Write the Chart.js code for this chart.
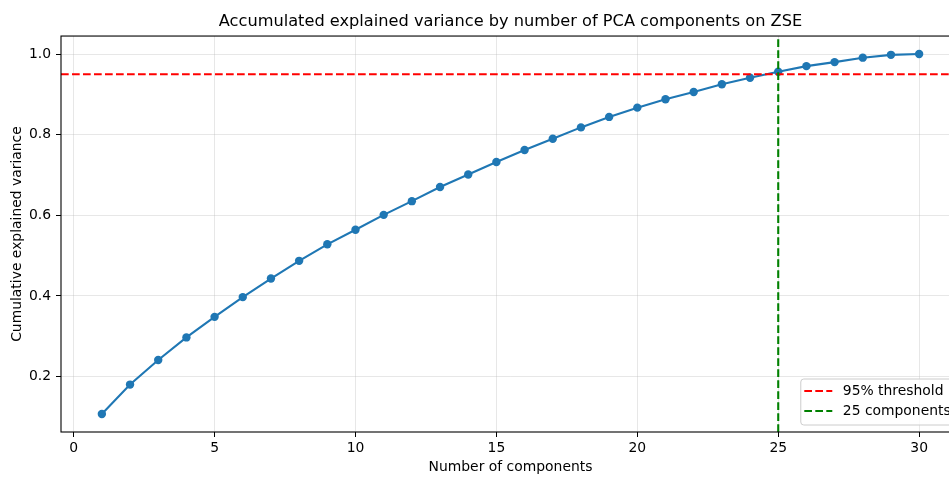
<!DOCTYPE html>
<html><head><meta charset="utf-8">
<script src="https://cdn.jsdelivr.net/npm/chart.js@4"></script>
<style>html,body{margin:0;padding:0;overflow:hidden;background:#fff}</style>
</head>
<body>
<canvas id="c" width="970" height="477"></canvas>
<script>
// ---- data ----
const components = [1,2,3,4,5,6,7,8,9,10,11,12,13,14,15,16,17,18,19,20,21,22,23,24,25,26,27,28,29,30];
const cumVariance = [0.107,0.180,0.241,0.297,0.348,0.397,0.443,0.487,0.528,0.564,0.601,0.635,0.670,0.701,0.732,0.762,0.790,0.818,0.844,0.867,0.888,0.906,0.925,0.941,0.956,0.970,0.980,0.991,0.998,1.000];
const threshold = 0.95;
const nComponents = 25;
const xTicks = [0,5,10,15,20,25,30];
const yTicks = [0.2,0.4,0.6,0.8,1.0];
const titleText = 'Accumulated explained variance by number of PCA components on ZSE';
const xLabel = 'Number of components';
const yLabel = 'Cumulative explained variance';
const legendLabels = ['95% threshold', '25 components'];

// ---- axis limits (matplotlib-style 5% margins) ----
const xDataMin = Math.min(...components), xDataMax = Math.max(...components);
const xPad = (xDataMax - xDataMin) * 0.05;
const xMin = xDataMin - xPad, xMax = xDataMax + xPad;
const yDataMin = Math.min(...cumVariance), yDataMax = Math.max(...cumVariance);
const yPad = (yDataMax - yDataMin) * 0.05;
const yMin = yDataMin - yPad, yMax = yDataMax + yPad;

const FONT = "'DejaVu Sans', sans-serif";
const dashPattern = [7.7, 3.3];

const framePlugin = {
  id: 'frame',
  afterDraw(chart) {
    const {ctx, chartArea: a} = chart;
    ctx.save();
    ctx.strokeStyle = '#000';
    ctx.lineWidth = 1.1;
    ctx.strokeRect(a.left, a.top, a.right - a.left, a.bottom - a.top);
    ctx.restore();
  }
};

const legendPlugin = {
  id: 'mplLegend',
  afterDraw(chart) {
    const {ctx, chartArea: a} = chart;
    const items = chart.data.datasets.filter(d => d.inLegend);
    ctx.save();
    ctx.font = '13.9px ' + FONT;
    const textW = Math.max(...items.map(d => ctx.measureText(d.label).width));
    const w = 42 + textW + 2.3;
    const h = 46;
    const right = a.right - 7, bottom = a.bottom - 7;
    const left = right - w, top = bottom - h;
    ctx.beginPath();
    if (ctx.roundRect) ctx.roundRect(left, top, w, h, 3); else ctx.rect(left, top, w, h);
    ctx.fillStyle = 'rgba(255,255,255,0.8)';
    ctx.fill();
    ctx.strokeStyle = '#cccccc';
    ctx.lineWidth = 1;
    ctx.stroke();
    items.forEach((d, i) => {
      const cy = top + 12 + i * 20;
      ctx.beginPath();
      ctx.setLineDash(dashPattern);
      ctx.strokeStyle = d.borderColor;
      ctx.lineWidth = 2.08;
      ctx.moveTo(left + 3.5, cy);
      ctx.lineTo(left + 31.5, cy);
      ctx.stroke();
      ctx.setLineDash([]);
      ctx.fillStyle = '#000';
      ctx.textBaseline = 'middle';
      ctx.textAlign = 'left';
      ctx.fillText(d.label, left + 42, cy + 0.5);
    });
    ctx.restore();
  }
};

const gridCommon = {
  color: 'rgba(176,176,176,0.3)',
  lineWidth: 1,
  tickColor: '#000',
  tickLength: 5,
  tickWidth: 1,
  drawTicks: true
};

new Chart(document.getElementById('c'), {
  type: 'line',
  data: {
    datasets: [
      {
        label: 'Cumulative explained variance',
        data: components.map((c, i) => ({x: c, y: cumVariance[i]})),
        borderColor: '#1f77b4',
        backgroundColor: '#1f77b4',
        borderWidth: 2.08,
        pointRadius: 4.2,
        pointHoverRadius: 4.2,
        pointBorderWidth: 0,
        tension: 0,
        order: 3
      },
      {
        label: legendLabels[0],
        inLegend: true,
        data: [{x: xMin, y: threshold}, {x: xMax, y: threshold}],
        borderColor: '#ff0000',
        borderWidth: 2.08,
        borderDash: dashPattern,
        pointRadius: 0,
        order: 2
      },
      {
        label: legendLabels[1],
        inLegend: true,
        data: [{x: nComponents, y: yMin}, {x: nComponents, y: yMax}],
        borderColor: '#008000',
        borderWidth: 2.08,
        borderDash: dashPattern,
        pointRadius: 0,
        order: 1
      }
    ]
  },
  options: {
    responsive: false,
    animation: false,
    devicePixelRatio: 1,
    layout: {padding: {left: 0, right: 10, top: 0, bottom: 0}},
    plugins: {
      legend: {display: false},
      tooltip: {enabled: false},
      title: {
        display: true,
        fullSize: false,
        text: titleText,
        color: '#000',
        font: {family: FONT, size: 16.2, weight: 'normal', lineHeight: 1.2},
        padding: {top: 12, bottom: 4.6}
      }
    },
    scales: {
      x: {
        type: 'linear',
        min: xMin,
        max: xMax,
        afterFit(s) { s.height = 45; },
        afterBuildTicks(s) { s.ticks = xTicks.map(v => ({value: v})); },
        grid: gridCommon,
        border: {display: false},
        ticks: {
          color: '#000',
          font: {family: FONT, size: 13.9},
          padding: 3,
          maxRotation: 0,
          callback: v => String(v)
        },
        title: {
          display: true,
          text: xLabel,
          color: '#000',
          font: {family: FONT, size: 13.9},
          padding: {top: 0, bottom: 1.5}
        }
      },
      y: {
        type: 'linear',
        min: yMin,
        max: yMax,
        afterFit(s) { s.width = 61; },
        afterBuildTicks(s) { s.ticks = yTicks.map(v => ({value: v})); },
        grid: gridCommon,
        border: {display: false},
        ticks: {
          color: '#000',
          font: {family: FONT, size: 13.9},
          padding: 5,
          callback: v => Number(v).toFixed(1)
        },
        title: {
          display: true,
          text: yLabel,
          color: '#000',
          font: {family: FONT, size: 13.9},
          padding: {top: 9, bottom: 0}
        }
      }
    }
  },
  plugins: [framePlugin, legendPlugin]
});
</script>
</body></html>
